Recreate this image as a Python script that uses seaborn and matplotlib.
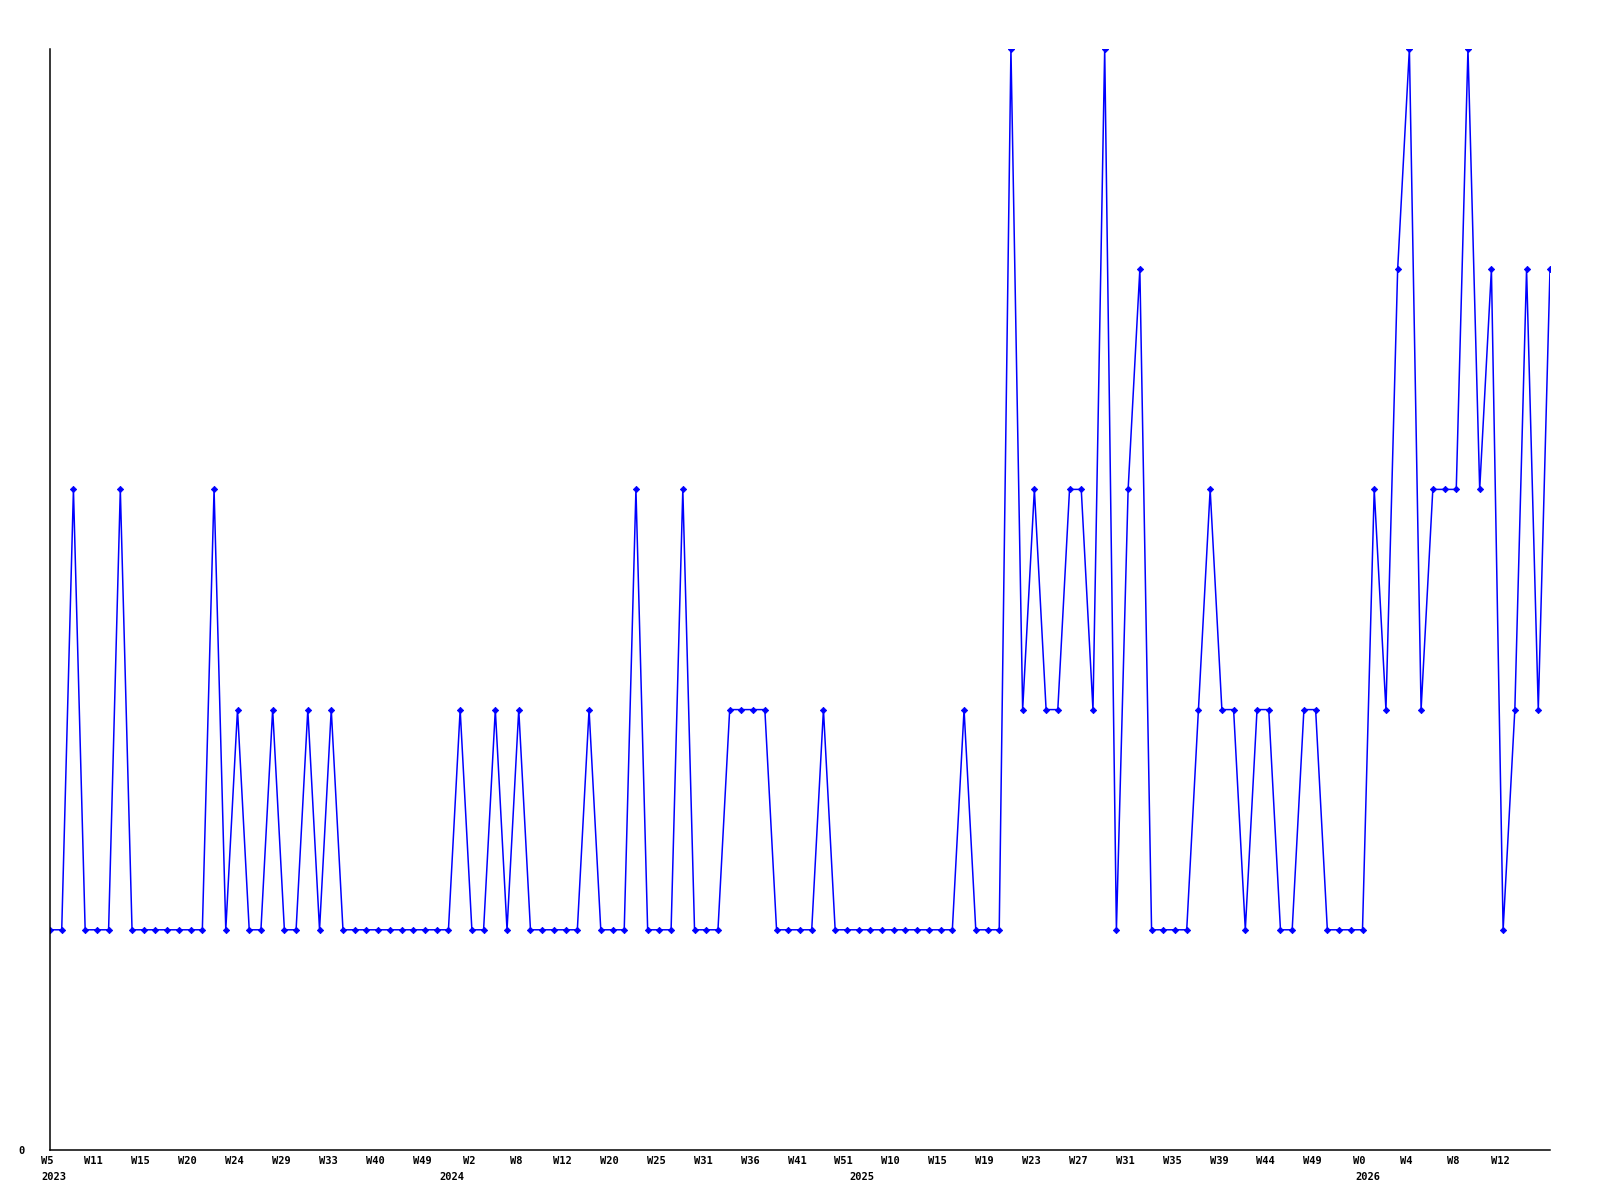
import matplotlib
matplotlib.use("Agg")
import matplotlib.pyplot as plt
import matplotlib.transforms as mtransforms
import seaborn as sns
import numpy as np

# Weekly counts (one entry per recorded week)

values = [
    1, 1, 3, 1, 1, 1, 3, 1, 1, 1,
    1, 1, 1, 1, 3, 1, 2, 1, 1, 2,
    1, 1, 2, 1, 2, 1, 1, 1, 1, 1,
    1, 1, 1, 1, 1, 2, 1, 1, 2, 1,
    2, 1, 1, 1, 1, 1, 2, 1, 1, 1,
    3, 1, 1, 1, 3, 1, 1, 1, 2, 2,
    2, 2, 1, 1, 1, 1, 2, 1, 1, 1,
    1, 1, 1, 1, 1, 1, 1, 1, 2, 1,
    1, 1, 5, 2, 3, 2, 2, 3, 3, 2,
    5, 1, 3, 4, 1, 1, 1, 1, 2, 3,
    2, 2, 1, 2, 2, 1, 1, 2, 2, 1,
    1, 1, 1, 3, 2, 4, 5, 2, 3, 3,
    3, 5, 3, 4, 1, 2, 4, 2, 4
]

week_labels = [
    "W5", "W11", "W15", "W20", "W24", "W29", "W33", "W40",
    "W49", "W2", "W8", "W12", "W20", "W25", "W31", "W36",
    "W41", "W51", "W10", "W15", "W19", "W23", "W27", "W31",
    "W35", "W39", "W44", "W49", "W0", "W4", "W8", "W12"
]

year_labels = ["2023", "2024", "2025", "2026"]
year_pos = [0.3, 34.3, 69.3, 112.5]

idx = np.arange(len(values))
tick_pos = idx[::4][:len(week_labels)]

# Plot

sns.set_theme(style="white")
plt.rcParams['font.family'] = ['DejaVu Sans Mono', 'DejaVu Sans']
plt.rcParams['text.color'] = 'black'
plt.rcParams['xtick.color'] = 'black'
plt.rcParams['ytick.color'] = 'black'

fig = plt.figure(figsize=(16, 12), dpi=100)
ax = fig.add_axes([0.03125, 0.04167, 0.9375, 0.9175])

sns.lineplot(
    x=idx,
    y=values,
    ax=ax,
    color="#0000ff",
    linewidth=1.1,
    marker="D",
    markersize=3.2,
    markeredgewidth=0.6,
    markeredgecolor="#0000ff",
    markerfacecolor="#0000ff"
)

ax.set_xlim(0, 128)
ax.set_ylim(0, 5)

sns.despine(ax=ax)
for side in ["left", "bottom"]:
    ax.spines[side].set_color("black")
    ax.spines[side].set_linewidth(1.1)

ax.set_xticks(tick_pos)
ax.set_xticklabels(week_labels, fontsize=7.5, fontweight="bold", color="black")
ax.set_yticks([0])
ax.set_yticklabels(["0"], fontsize=7.5, fontweight="bold", color="black")
ax.tick_params(axis="x", length=0, pad=4)
ax.tick_params(axis="y", length=0, pad=18)

shift = mtransforms.ScaledTranslation(-3 / 100, 0, fig.dpi_scale_trans)
for lab in ax.get_xticklabels():
    lab.set_transform(lab.get_transform() + shift)

year_trans = mtransforms.blended_transform_factory(ax.transData, ax.transAxes)
for pos, yr in zip(year_pos, year_labels):
    ax.text(
        pos, -0.0245, yr,
        transform=year_trans,
        ha="center", va="center",
        fontsize=7.5, fontweight="bold", color="black"
    )

ax.set_xlabel("")
ax.set_ylabel("")
ax.grid(False)

fig.savefig("out.png", dpi=100)
